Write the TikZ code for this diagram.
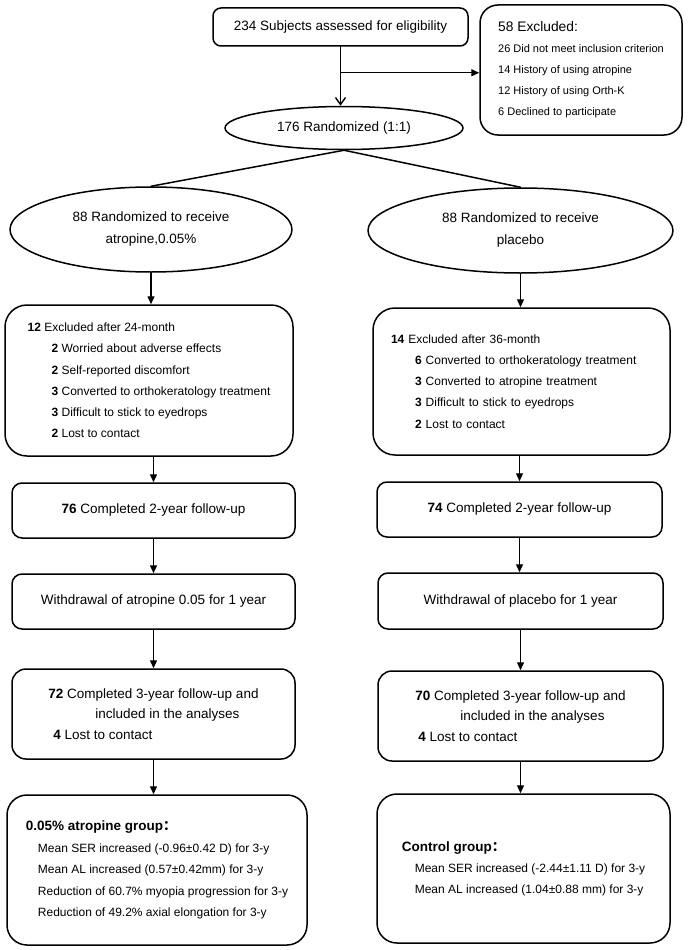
\documentclass[tikz,border=0pt]{standalone}
\usepackage{fontspec}
\setmainfont{Liberation Sans}
\newfontfamily\cjk{Noto Sans CJK SC}
\usetikzlibrary{arrows.meta,shapes.geometric}

\begin{document}
\begin{tikzpicture}
	[line cap=round,line join=round,x=1pt,y=-1pt,
	box/.style={draw,line width=1.5pt,rounded corners=#1,inner sep=0pt,align=center,font=\fontsize{13.5}{22}\selectfont},
	box/.default=10pt,
	oval/.style={draw,ellipse,line width=1.5pt,inner sep=0pt,align=center,font=\fontsize{13.5}{22}\selectfont},
	link/.style={line width=1.5pt},
	arr/.style={line width=1.4pt,-{Triangle[length=8pt,width=7pt]}},
	varr/.style={line width=1.4pt,-{Straight Barb[length=7pt,width=10pt]}}]
	\useasboundingbox (0,0) rectangle (692,950);
	\node[box=8pt,minimum width=255pt,minimum height=38pt] (assess) at (340.5,27) {234 Subjects assessed for eligibility};
	\node[box=18pt,align=left,minimum width=202pt,minimum height=130pt,font=\fontsize{11}{21}\selectfont] (excl) at (581,70) {{\fontsize{13.8}{21}\selectfont 58 Excluded:}\\26 Did not meet inclusion criterion\\14 History of using atropine\\12 History of using Orth-K\\6 Declined to participate};
	\node[oval,minimum width=238pt,minimum height=43pt] (rand) at (344,128) {176 Randomized (1:1)};
	\node[oval,minimum width=282pt,minimum height=85pt] (armA) at (151,229.5) {88 Randomized to receive\\atropine,0.05\%};
	\node[oval,minimum width=305pt,minimum height=85pt] (armB) at (520.5,230.5) {88 Randomized to receive\\placebo};
	\node[box=22pt,align=left,minimum width=288pt,minimum height=151pt,font=\fontsize{12}{21.2}\selectfont] (exclA) at (149,380.5) {\textbf{12} Excluded after 24-month\\
		\hspace*{24pt}\textbf{2} Worried about adverse effects\\
		\hspace*{24pt}\textbf{2} Self-reported discomfort\\
		\hspace*{24pt}\textbf{3} Converted to orthokeratology treatment\\
		\hspace*{24pt}\textbf{3} Difficult to stick to eyedrops\\
		\hspace*{24pt}\textbf{2} Lost to contact};
	\node[box=22pt,align=left,text width=261pt,inner xsep=18pt,minimum height=147pt,font=\fontsize{12}{21.2}\selectfont] (exclB) at (521.5,381.5) {\textbf{14} Excluded after 36-month\\
		\hspace*{24pt}\textbf{6} Converted to orthokeratology treatment\\
		\hspace*{24pt}\textbf{3} Converted to atropine treatment\\
		\hspace*{24pt}\textbf{3} Difficult to stick to eyedrops\\
		\hspace*{24pt}\textbf{2} Lost to contact};
	\node[box,minimum width=283pt,minimum height=55pt] (twoA) at (153.5,510.5) {\textbf{76} Completed 2-year follow-up};
	\node[box,minimum width=285pt,minimum height=55pt] (twoB) at (519.5,509.5) {\textbf{74} Completed 2-year follow-up};
	\node[box,minimum width=283pt,minimum height=55pt] (wdA) at (153.5,601.5) {Withdrawal of atropine 0.05 for 1 year};
	\node[box,minimum width=285pt,minimum height=56pt] (wdB) at (520.5,601) {Withdrawal of placebo for 1 year};
	\node[box=14pt,align=left,minimum width=283pt,minimum height=90pt,font=\fontsize{13.5}{20.5}\selectfont] (threeA) at (153.5,714) {\textbf{72} Completed 3-year follow-up and\\
		\hspace*{47pt}included in the analyses\\
		\hspace*{5pt}\textbf{4} Lost to contact};
	\node[box=14pt,align=left,minimum width=285pt,minimum height=90pt,font=\fontsize{13.5}{20.5}\selectfont] (threeB) at (520.5,716) {\textbf{70} Completed 3-year follow-up and\\
		\hspace*{45pt}included in the analyses\\
		\hspace*{3pt}\textbf{4} Lost to contact};
	\node[box=20pt,align=left,minimum width=300pt,minimum height=150pt,font=\fontsize{12}{21.5}\selectfont] (resA) at (157,870) {{\fontsize{13.5}{21.5}\selectfont\bfseries 0.05\% atropine group{\cjk ：}}\\
		\hspace*{12pt}Mean SER increased (-0.96±0.42 D) for 3-y\\
		\hspace*{12pt}Mean AL increased (0.57±0.42mm) for 3-y\\
		\hspace*{12pt}Reduction of 60.7\% myopia progression for 3-y\\
		\hspace*{12pt}Reduction of 49.2\% axial elongation for 3-y};
	\node[box=20pt,align=left,minimum width=293pt,minimum height=149pt,font=\fontsize{12}{21}\selectfont] (resB) at (523.5,868.5) {{\fontsize{13.5}{21}\selectfont\bfseries Control group{\cjk ：}}\\
		\hspace*{13pt}Mean SER increased (-2.44±1.11 D) for 3-y\\
		\hspace*{13pt}Mean AL increased (1.04±0.88 mm) for 3-y};
	\coordinate (split) at ([yshift=-26pt]assess.south);
	\draw[varr] (assess.south) -- (assess.south |- rand.north);
	\draw[arr] (split) -- (split -| excl.west);
	\draw[link] (rand.south) -- (armA.north);
	\draw[link] (rand.south) -- (armB.north);
	\draw[arr] (armA.south) -- (armA.south |- exclA.north);
	\draw[arr] (armB.south) -- (armB.south |- exclB.north);
	\draw[arr] (twoA.north |- exclA.south) -- (twoA.north);
	\draw[arr] (twoB.north |- exclB.south) -- (twoB.north);
	\draw[arr] (twoA.south) -- (wdA.north);
	\draw[arr] (twoB.south) -- (twoB.south |- wdB.north);
	\draw[arr] (wdA.south) -- (threeA.north);
	\draw[arr] (wdB.south) -- (threeB.north);
	\draw[arr] (threeA.south) -- (threeA.south |- resA.north);
	\draw[arr] (threeB.south) -- (threeB.south |- resB.north);
\end{tikzpicture}
\end{document}
